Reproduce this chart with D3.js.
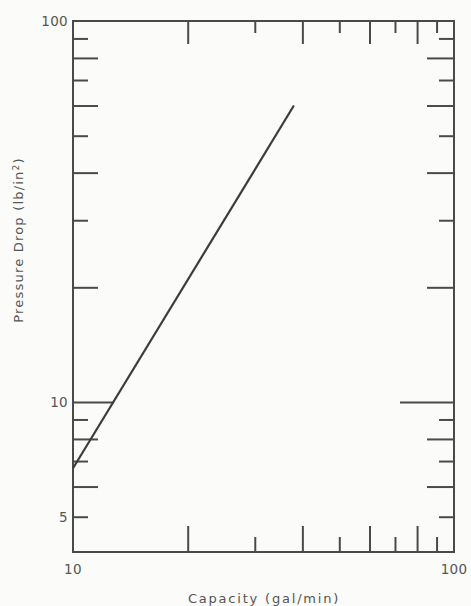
<!DOCTYPE html>
<html>
<head>
<meta charset="utf-8">
<script src="https://cdn.jsdelivr.net/npm/d3@7"></script>
<style>
  html, body { margin: 0; padding: 0; background: #fbfbf9; }
  svg { display: block; }
  text { font-family: "DejaVu Sans", sans-serif; fill: #555555; }
</style>
</head>
<body>
<svg id="chart" width="471" height="606"></svg>
<script>
// ---- data ----
const capacity = [10, 38];          // gal/min
const pressureDrop = [6.7, 60];     // lb/in^2

const xDomain = [10, 100];
const yDomain = [4.04, 100];

const xTicks = [20, 30, 40, 50, 60, 70, 80, 90];
const xLongTicks = [20, 40, 60, 80];
const xTickLabels = [10, 100];

const yTicks = [5, 6, 7, 8, 9, 10, 20, 30, 40, 50, 60, 70, 80, 90];
const yLongTicks = [6, 8, 20, 40, 60, 80];
const yMajorTicks = [10];
const yTickLabels = [5, 10, 100];

// ---- layout ----
const svg = d3.select("#chart");
const L = 73, R = 454, T = 21, B = 552;
const x = d3.scaleLog().domain(xDomain).range([L, R]);
const y = d3.scaleLog().domain(yDomain).range([B, T]);
const ink = "#4a4a4a";

// frame
svg.append("rect")
  .attr("x", L).attr("y", T).attr("width", R - L).attr("height", B - T)
  .attr("fill", "none").attr("stroke", ink).attr("stroke-width", 2);

function styleAxis(g) {
  g.select(".domain").remove();
  g.selectAll(".tick line").attr("stroke", ink).attr("stroke-width", 2);
}

// bottom ticks (pointing up)
const gBottom = svg.append("g").attr("transform", `translate(0,${B})`)
  .call(d3.axisTop(x).tickValues(xTicks).tickFormat(""));
styleAxis(gBottom);
gBottom.selectAll(".tick line").attr("y2", d => xLongTicks.includes(d) ? -26 : -15);

// top ticks (pointing down)
const gTop = svg.append("g").attr("transform", `translate(0,${T})`)
  .call(d3.axisBottom(x).tickValues(xTicks).tickFormat(""));
styleAxis(gTop);
gTop.selectAll(".tick line").attr("y2", d => xLongTicks.includes(d) ? 23 : 12);

// left ticks (pointing right)
const gLeft = svg.append("g").attr("transform", `translate(${L},0)`)
  .call(d3.axisRight(y).tickValues(yTicks).tickFormat(""));
styleAxis(gLeft);
gLeft.selectAll(".tick line").attr("x2", d => yMajorTicks.includes(d) ? 41 : (yLongTicks.includes(d) ? 25 : 15));

// right ticks (pointing left)
const gRight = svg.append("g").attr("transform", `translate(${R},0)`)
  .call(d3.axisLeft(y).tickValues(yTicks).tickFormat(""));
styleAxis(gRight);
gRight.selectAll(".tick line").attr("x2", d => yMajorTicks.includes(d) ? -54 : (yLongTicks.includes(d) ? -27 : -15));

// tick labels
svg.append("g").selectAll("text").data(yTickLabels).join("text")
  .attr("x", L - 5).attr("y", d => y(d)).attr("dy", "0.36em")
  .attr("text-anchor", "end").attr("font-size", 13.5).attr("letter-spacing", 0.3)
  .text(d => d);

svg.append("g").selectAll("text").data(xTickLabels).join("text")
  .attr("x", d => x(d)).attr("y", B + 17).attr("dy", "0.36em")
  .attr("text-anchor", "middle").attr("font-size", 13.5).attr("letter-spacing", 0.3)
  .text(d => d);

// axis titles
svg.append("text")
  .attr("x", 264).attr("y", 598).attr("dy", "0.36em")
  .attr("text-anchor", "middle").attr("font-size", 13).attr("letter-spacing", 1.8)
  .text("Capacity (gal/min)");

const yt = svg.append("text")
  .attr("transform", "translate(23,240) rotate(-90)")
  .attr("text-anchor", "middle").attr("font-size", 13).attr("letter-spacing", 1.2);
yt.append("tspan").text("Pressure Drop (lb/in");
yt.append("tspan").attr("font-size", 9).attr("dy", "-0.5em").text("2");
yt.append("tspan").attr("dy", "0.35em").text(")");

// data line
const line = d3.line().x((d, i) => x(capacity[i])).y((d, i) => y(pressureDrop[i]));
svg.append("path").datum(capacity)
  .attr("d", line).attr("fill", "none").attr("stroke", "#3c3c3c").attr("stroke-width", 2.2);
</script>
</body>
</html>
